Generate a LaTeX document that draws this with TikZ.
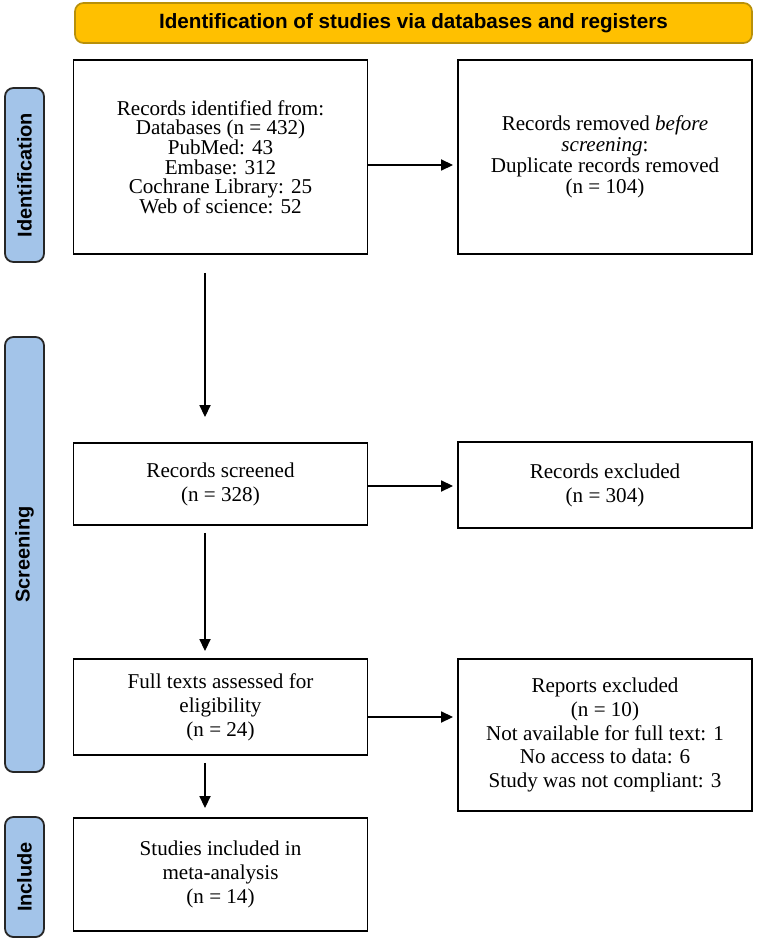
\documentclass[tikz,border=0pt]{standalone}
\usepackage{fontspec}
\setmainfont{Liberation Serif}
\setsansfont{Liberation Sans}
\usetikzlibrary{arrows.meta}

\definecolor{headgold}{HTML}{FFC000}
\definecolor{headedge}{HTML}{B8900A}
\definecolor{phaseblue}{HTML}{A3C4E9}
\definecolor{phaseedge}{HTML}{262626}

\begin{document}
\begin{tikzpicture}[scale=1,
    box/.style={draw=black, line width=1.4pt, align=center, inner sep=0pt,
        font=\fontsize{15}{17}\selectfont},
    phase/.style={draw=phaseedge, fill=phaseblue, line width=1.3pt, rounded corners=6pt,
        minimum height=0.975cm, inner sep=0pt, rotate=90,
        font=\sffamily\bfseries\fontsize{14.2}{16}\selectfont},
    arr/.style={-{Triangle[length=0.3cm,width=0.28cm]}, line width=0.8pt}]

    % Fix the page size
    \useasboundingbox (0,0) rectangle (18.975,-23.475);

    % Draw title bar
    \node[draw=headedge, fill=headgold, rounded corners=6pt, line width=1.2pt,
        minimum width=16.925cm, minimum height=1cm,
        font=\sffamily\bfseries\fontsize{14.7}{16}\selectfont] (title) at (10.3375,-0.575)
        {Identification of studies via databases and registers};

    % Draw phase labels
    \node[phase, minimum width=4.35cm] (identphase) at (0.6125,-4.375) {Identification};
    \node[phase, minimum width=10.875cm] (screenphase) at (0.6125,-13.8625) {Screening};
    \node[phase, minimum width=3cm] (includephase) at (0.6125,-21.925) {Include};

    % Draw boxes - left column
    \node[box, minimum width=7.35cm, minimum height=4.85cm,
        font=\fontsize{15}{14}\selectfont] (ident) at (5.5125,-3.925)
        {Records identified from:\\ Databases (n = 432)\\ PubMed: 43\\ Embase: 312\\
         Cochrane Library: 25\\ Web of science: 52};
    \node[box, minimum width=7.35cm, minimum height=2.05cm] (screened) at (5.5125,-12.1)
        {Records screened\\ (n = 328)};
    \node[box, minimum width=7.35cm, minimum height=2.4cm] (fulltext) at (5.5125,-17.675)
        {Full texts assessed for\\ eligibility\\ (n = 24)};
    \node[box, minimum width=7.35cm, minimum height=2.825cm] (included) at (5.5125,-21.8625)
        {Studies included in\\ meta-analysis\\ (n = 14)};

    % Draw boxes - right column
    \node[box, minimum width=7.35cm, minimum height=4.85cm,
        font=\fontsize{15}{15}\selectfont] (removed) at (15.125,-3.925)
        {Records removed \textit{before}\\ \textit{screening}:\\ Duplicate records removed\\ (n = 104)};
    \node[box, minimum width=7.35cm, minimum height=2.15cm] (excluded) at (15.125,-12.125)
        {Records excluded\\ (n = 304)};
    \node[box, minimum width=7.35cm, minimum height=3.8cm] (reports) at (15.125,-18.375)
        {Reports excluded\\ (n = 10)\\ Not available for full text: 1\\ No access to data: 6\\
         Study was not compliant: 3};

    % Draw downward arrows
    \coordinate (axis) at (5.125,0);
    \draw[arr, shorten <=0.45cm, shorten >=0.625cm] (ident.south -| axis) -- (screened.north -| axis);
    \draw[arr, shorten <=0.175cm, shorten >=0.175cm] (screened.south -| axis) -- (fulltext.north -| axis);
    \draw[arr, shorten <=0.175cm, shorten >=0.225cm] (fulltext.south -| axis) -- (included.north -| axis);

    % Draw sideways arrows
    \coordinate (side1) at ([yshift=-0.2cm]ident.east);
    \coordinate (side2) at ([yshift=-0.05cm]screened.east);
    \coordinate (side3) at ([yshift=-0.25cm]fulltext.east);
    \draw[arr, shorten >=0.1cm] (side1) -- (side1 -| removed.west);
    \draw[arr, shorten >=0.1cm] (side2) -- (side2 -| excluded.west);
    \draw[arr, shorten >=0.1cm] (side3) -- (side3 -| reports.west);

\end{tikzpicture}
\end{document}
